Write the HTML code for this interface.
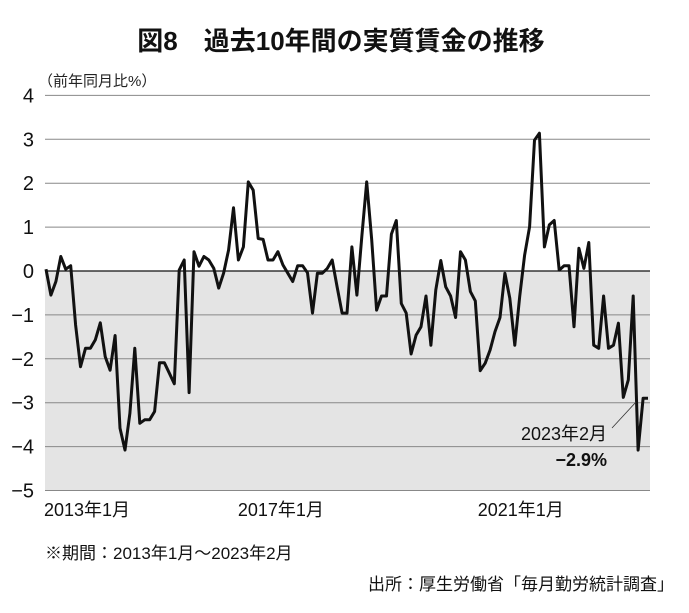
<!DOCTYPE html>
<html><head><meta charset="utf-8">
<style>
html,body{margin:0;padding:0;background:#fff;}
svg{display:block;font-family:"Liberation Sans","Noto Sans CJK JP",sans-serif;}
</style></head>
<body>
<svg id="chart" width="689" height="613" viewBox="0 0 689 613">
  <text x="341" y="50" text-anchor="middle" font-size="26" font-weight="bold" fill="#111">図8　過去10年間の実質賃金の推移</text>
  <text x="38" y="86" font-size="15" fill="#222">（前年同月比%）</text>
  <g id="grid"></g>
  <g id="yticks"></g>
  <g id="xticks"></g>
  <path id="line" fill="none" stroke="#111" stroke-width="3" stroke-linejoin="round"></path>
  <line x1="612" y1="428" x2="636" y2="402" stroke="#333" stroke-width="0.8"/>
  <text x="607" y="440" text-anchor="end" font-size="18" fill="#111">2023年2月</text>
  <text x="607" y="466" text-anchor="end" font-size="18" font-weight="bold" fill="#111">−2.9%</text>
  <text x="45" y="559" font-size="17" fill="#111">※期間：2013年1月〜2023年2月</text>
  <text x="674" y="590" text-anchor="end" font-size="17" fill="#111">出所：厚生労働省「毎月勤労統計調査」</text>
</svg>
<script>
const yTicks = [4,3,2,1,0,-1,-2,-3,-4,-5];
const xLabels = ["2013年1月","2017年1月","2021年1月"];
const xLabelIdx = [0,48,96];
const values = [0.04,-0.55,-0.24,0.33,0.04,0.12,-1.23,-2.18,-1.76,-1.76,-1.57,-1.18,-1.95,-2.26,-1.47,-3.58,-4.08,-3.24,-1.76,-3.47,-3.39,-3.39,-3.2,-2.09,-2.09,-2.33,-2.57,0.02,0.25,-2.77,0.44,0.11,0.33,0.25,0.06,-0.39,-0.05,0.48,1.44,0.25,0.55,2.03,1.84,0.74,0.72,0.25,0.25,0.44,0.14,-0.05,-0.24,0.12,0.12,-0.04,-0.96,-0.05,-0.05,0.06,0.25,-0.36,-0.96,-0.96,
0.55,-0.55,0.78,2.03,0.71,-0.89,-0.57,-0.57,0.84,1.15,-0.74,-0.96,-1.89,-1.46,-1.27,-0.57,-1.69,-0.43,0.24,-0.36,-0.57,-1.06,0.44,0.25,-0.47,-0.68,-2.27,-2.1,-1.8,-1.38,-1.06,-0.05,-0.62,-1.69,-0.58,0.36,1.01,2.98,3.14,0.55,1.05,1.15,0.02,0.12,0.12,-1.27,0.52,0.06,0.65,-1.69,-1.76,-0.57,-1.76,-1.69,-1.19,-2.88,-2.48,-0.57,-4.08,-2.9,-2.9];

const NS="http://www.w3.org/2000/svg";
const X0=46,X1=648,GL=45,GR=650;
const y=v=>271-v*43.9;
const x=i=>X0+(X1-X0)*i/(values.length-1);
const grid=document.getElementById('grid');
const shade=document.createElementNS(NS,'rect');
shade.setAttribute('x',GL);shade.setAttribute('y',y(0));shade.setAttribute('width',GR-GL);shade.setAttribute('height',y(-5)-y(0));shade.setAttribute('fill','#e4e4e4');


grid.appendChild(shade);
const yt=document.getElementById('yticks');
yTicks.forEach(t=>{
  const l=document.createElementNS(NS,'line');
  l.setAttribute('x1',GL);l.setAttribute('x2',GR);l.setAttribute('y1',y(t));l.setAttribute('y2',y(t));
  l.setAttribute('stroke',t===0?'#111':'#888');l.setAttribute('stroke-width',t===0?1.3:1);
  
  
  grid.appendChild(l);
  const tx=document.createElementNS(NS,'text');
  tx.setAttribute('x',34);tx.setAttribute('y',y(t)+7);tx.setAttribute('text-anchor','end');tx.setAttribute('font-size','20');tx.setAttribute('fill','#111');
  tx.textContent=t<0?'−'+Math.abs(t):String(t);
  
  
  yt.appendChild(tx);
});
const xt=document.getElementById('xticks');
xLabels.forEach((s,k)=>{
  const tx=document.createElementNS(NS,'text');
  tx.setAttribute('x',x(xLabelIdx[k])-2+(k===2?-40:(k===1?-43:0)));tx.setAttribute('y',516);tx.setAttribute('font-size','18');tx.setAttribute('fill','#111');
  tx.textContent=s;
  
  
  xt.appendChild(tx);
});
document.getElementById('line').setAttribute('d',values.map((v,i)=>(i?'L':'M')+x(i).toFixed(1)+' '+y(v).toFixed(1)).join(''));
</script>
</body></html>
